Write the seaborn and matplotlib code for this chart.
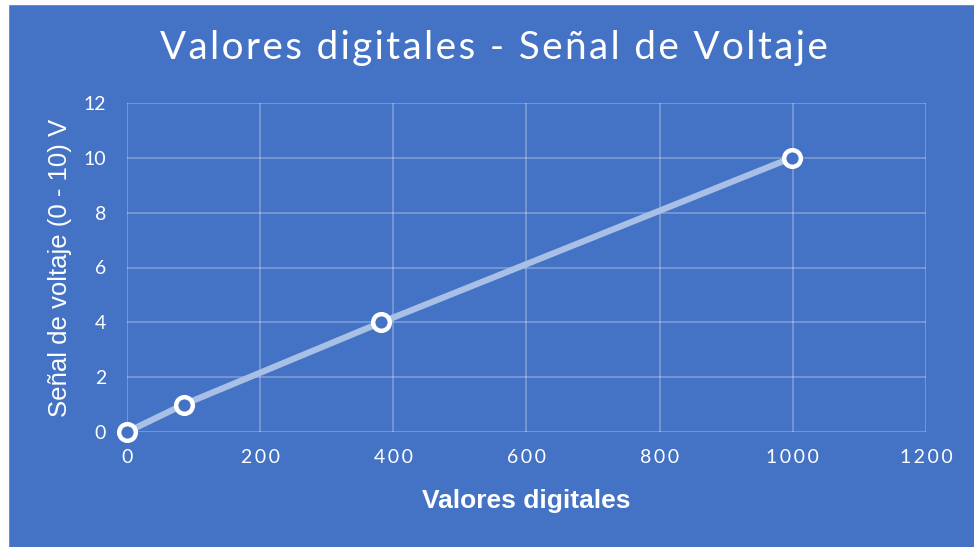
import matplotlib
matplotlib.use("Agg")
import matplotlib.pyplot as plt
import seaborn as sns
import pandas as pd
from matplotlib.patches import Rectangle

# Datos del gráfico
valores_digitales = [0, 85, 382, 998]
voltaje = [0, 1, 4, 10]
x_ticks = [0, 200, 400, 600, 800, 1000, 1200]
y_ticks = [0, 2, 4, 6, 8, 10, 12]
titulo = "Valores digitales - Señal de Voltaje"

df = pd.DataFrame({"digital": valores_digitales, "voltaje": voltaje})

sns.set_style("white")
plt.rcParams["font.family"] = ["Lato", "DejaVu Sans"]


def espaciado(texto, sep="\u200a"):
    # simula el espaciado entre letras
    return sep.join(texto)


fondo = "#4472C4"
fig = plt.figure(figsize=(9.74, 5.47), dpi=100, facecolor=fondo)
# borde blanco arriba / izquierda
fig.patches.append(Rectangle((0, 0), 8 / 974, 1, transform=fig.transFigure, color="white", zorder=-1))
fig.patches.append(Rectangle((0, 1 - 4 / 547), 1, 4 / 547, transform=fig.transFigure, color="white", zorder=-1))

ax = fig.add_axes([127 / 974, 1 - 432 / 547, 799 / 974, 329 / 547])
ax.set_facecolor(fondo)

sns.lineplot(data=df, x="digital", y="voltaje", ax=ax, color="#A8BFE6", linewidth=4.5,
             marker="o", markersize=12, markerfacecolor=fondo, markeredgecolor="white",
             markeredgewidth=3.2, zorder=3, clip_on=False)

ax.set_xlim(0, 1200)
ax.set_ylim(0, 12)
ax.set_xticks(x_ticks)
ax.set_xticklabels([espaciado(str(v), "\u2009") for v in x_ticks])
ax.set_yticks(y_ticks)
ax.grid(True, color="white", alpha=0.3, linewidth=1.2)
for s in ax.spines.values():
    s.set_visible(False)

ax.tick_params(axis="both", length=0, colors="white", labelsize=14)
ax.tick_params(axis="x", pad=12)
ax.tick_params(axis="y", pad=15)

ax.set_xlabel("Valores digitales", color="white", fontsize=19, fontweight="bold",
              family="Liberation Sans", labelpad=17)
ax.set_ylabel("Señal de voltaje (0 - 10) V", color="white", fontsize=18.5,
              family="Liberation Sans", labelpad=8)

fig.text(494 / 974, 1 - 48 / 547, espaciado(titulo), color="white", fontweight="normal",
         fontsize=27.8, ha="center", va="center", family=["Lato", "DejaVu Sans"])

fig.savefig("out.png", dpi=100, facecolor=fondo)
